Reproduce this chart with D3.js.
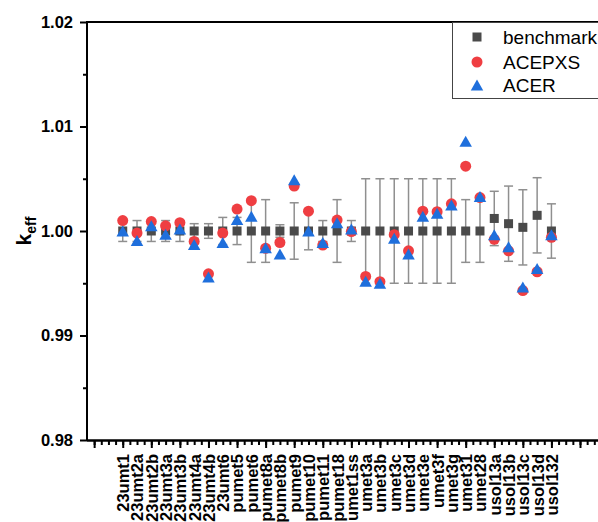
<!DOCTYPE html>
<html>
<head>
<meta charset="utf-8">
<script src="https://cdn.jsdelivr.net/npm/d3@7"></script>
<style>
  html, body { margin: 0; padding: 0; background: #fff; }
  svg { display: block; font-family: "Liberation Sans", Arial, sans-serif; }
</style>
</head>
<body>
<svg id="chart" width="598" height="522"></svg>
<script>
// Benchmark cases
const categories = ["23umt1","23umt2a","23umt2b","23umt3a","23umt3b","23umt4a","23umt4b","23umt6",
  "pumet5","pumet6","pumet8a","pumet8b","pumet9","pumet10","pumet11","pumet18","umet1ss",
  "umet3a","umet3b","umet3c","umet3d","umet3e","umet3f","umet3g","umet31","umet28",
  "usol13a","usol13b","usol13c","usol13d","usol132"];

// Benchmark k_eff and its uncertainty
const benchmark = [1,1,1,1,1,1,1,1,1,1,1,1,1,1,1,1,1,1,1,1,1,1,1,1,1,1,
  1.0012,1.0007,1.00035,1.0015,1.0000];
const benchmarkErr = [0.001,0.001,0.001,0.001,0.001,0.0007,0.0007,0.0013,0.0013,0.003,
  0.003,0.0006,0.0027,0.0018,0.001,0.003,0.001,0.005,0.005,0.005,0.005,0.005,0.005,0.005,
  0.003,0.003,0.0026,0.0036,0.0036,0.0036,0.0026];

// Calculated k_eff
const acepxs = [1.0010,0.9998,1.0009,1.0005,1.0008,0.9990,0.9959,0.9998,1.0021,1.0029,
  0.99835,0.9989,1.0043,1.0019,0.99865,1.00105,0.99995,0.99565,0.99515,0.99965,0.9981,
  1.0019,1.00185,1.0026,1.0062,1.0032,0.9992,0.9981,0.9943,0.9961,0.9994];
const acer = [1.0000,0.9991,1.0005,0.9997,1.0002,0.9987,0.9956,0.9989,1.0011,1.0014,
  0.9984,0.9978,1.0049,1.0000,0.9989,1.0008,1.0002,0.9952,0.9950,0.9993,0.9978,
  1.0014,1.0017,1.0025,1.0086,1.0033,0.99965,0.9985,0.99465,0.9964,0.99965];

const yTicks = [0.98, 0.99, 1.00, 1.01, 1.02];
const yMinorTicks = [0.985, 0.995, 1.005, 1.015];
const legendItems = ["benchmark", "ACEPXS", "ACER"];

const colors = { benchmark: "#4a4a4a", acepxs: "#ef3e42", acer: "#1f6fdc", err: "#8f8f8f" };

const svg = d3.select("#chart");
const plotLeft = 87, plotTop = 22, plotBottom = 440;

const x = d3.scaleLinear().domain([-2.5, 34]).range([plotLeft, plotLeft + 36.5 * 14.29]);
const y = d3.scaleLinear().domain([0.98, 1.02]).range([plotBottom, plotTop]);

// top frame line
svg.append("line")
  .attr("x1", plotLeft).attr("x2", 620).attr("y1", plotTop).attr("y2", plotTop)
  .attr("stroke", "#000").attr("stroke-width", 2);

// x axis: minor ticks, major ticks, rotated case labels
const xMinor = d3.range(-2, 34.01, 0.5);
const xMajor = d3.range(-2, 34.01, 2);
const gxMinor = svg.append("g").attr("transform", `translate(0,${plotBottom})`)
  .call(d3.axisBottom(x).tickValues(xMinor).tickSize(5).tickFormat(""));
const gxMajor = svg.append("g").attr("transform", `translate(0,${plotBottom})`)
  .call(d3.axisBottom(x).tickValues(xMajor).tickSize(8).tickFormat(""));
const gxLab = svg.append("g").attr("transform", `translate(0,${plotBottom})`)
  .call(d3.axisBottom(x).tickValues(d3.range(categories.length)).tickSize(0)
    .tickFormat(i => categories[i]));
gxLab.select(".domain").remove();
gxLab.selectAll("text")
  .attr("transform", "rotate(-90)")
  .attr("x", -14).attr("y", 0).attr("dy", "0.36em")
  .attr("text-anchor", "end")
  .attr("font-size", 16.5).attr("font-weight", "bold").attr("fill", "#000")
  .attr("font-family", "\"Liberation Sans\", Arial, sans-serif");
[gxMinor, gxMajor].forEach(g => {
  g.select(".domain").attr("stroke", "#000").attr("stroke-width", 2)
    .attr("d", `M${plotLeft},0.5H620`);
  g.selectAll(".tick line").attr("stroke", "#000").attr("stroke-width", 2);
});

// y axis
const gyMinor = svg.append("g").attr("transform", `translate(${plotLeft},0)`)
  .call(d3.axisLeft(y).tickValues(yMinorTicks).tickSize(4).tickFormat(""));
const gy = svg.append("g").attr("transform", `translate(${plotLeft},0)`)
  .call(d3.axisLeft(y).tickValues(yTicks).tickSize(7).tickPadding(7).tickFormat(d3.format(".2f")));
[gyMinor, gy].forEach(g => {
  g.select(".domain").attr("stroke", "#000").attr("stroke-width", 2)
    .attr("d", `M0,${plotTop - 1}V${plotBottom + 1}`);
  g.selectAll(".tick line").attr("stroke", "#000").attr("stroke-width", 2);
});
gy.selectAll("text")
  .attr("font-size", 16.5).attr("font-weight", "bold").attr("fill", "#000")
  .attr("font-family", "\"Liberation Sans\", Arial, sans-serif");

// y axis title: k_eff
const yTitle = svg.append("text")
  .attr("transform", `translate(31,${y(1.0)}) rotate(-90)`)
  .attr("text-anchor", "middle")
  .attr("font-weight", "bold").attr("fill", "#000");
yTitle.append("tspan").attr("font-size", 21).text("k");
yTitle.append("tspan").attr("font-size", 14).attr("dy", 5).text("eff");

// error bars on the benchmark values
const eb = svg.append("g").attr("stroke", colors.err).attr("stroke-width", 1.5);
categories.forEach((c, i) => {
  const cx = x(i), y0 = y(benchmark[i] - benchmarkErr[i]), y1 = y(benchmark[i] + benchmarkErr[i]);
  eb.append("line").attr("x1", cx).attr("x2", cx).attr("y1", y0).attr("y2", y1);
  eb.append("line").attr("x1", cx - 4.5).attr("x2", cx + 4.5).attr("y1", y0).attr("y2", y0);
  eb.append("line").attr("x1", cx - 4.5).attr("x2", cx + 4.5).attr("y1", y1).attr("y2", y1);
});

// markers
const sq = 9, r = 5.5, tw = 12.5, th = 11;
const triPath = `M0,${-th / 2}L${tw / 2},${th / 2}L${-tw / 2},${th / 2}Z`;

svg.append("g").selectAll("rect").data(benchmark).join("rect")
  .attr("x", (d, i) => x(i) - sq / 2).attr("y", d => y(d) - sq / 2)
  .attr("width", sq).attr("height", sq).attr("fill", colors.benchmark);

svg.append("g").selectAll("circle").data(acepxs).join("circle")
  .attr("cx", (d, i) => x(i)).attr("cy", d => y(d)).attr("r", r)
  .attr("fill", colors.acepxs);

svg.append("g").selectAll("path").data(acer).join("path")
  .attr("transform", (d, i) => `translate(${x(i)},${y(d)})`)
  .attr("d", triPath).attr("fill", colors.acer);

// legend
const lg = svg.append("g");
lg.append("rect").attr("x", 452.5).attr("y", 22.5).attr("width", 200).attr("height", 76)
  .attr("fill", "#fff").attr("stroke", "#444").attr("stroke-width", 1);
const ly = [37, 62, 85];
lg.append("rect").attr("x", 477 - 4.5).attr("y", ly[0] - 4.5).attr("width", sq).attr("height", sq)
  .attr("fill", colors.benchmark);
lg.append("circle").attr("cx", 477).attr("cy", ly[1]).attr("r", r).attr("fill", colors.acepxs);
lg.append("path").attr("transform", `translate(477,${ly[2]})`).attr("d", triPath).attr("fill", colors.acer);
legendItems.forEach((t, i) => {
  lg.append("text").attr("x", 503).attr("y", ly[i]).attr("dy", "0.36em")
    .attr("font-size", 19).attr("fill", "#000").text(t);
});
</script>
</body>
</html>
